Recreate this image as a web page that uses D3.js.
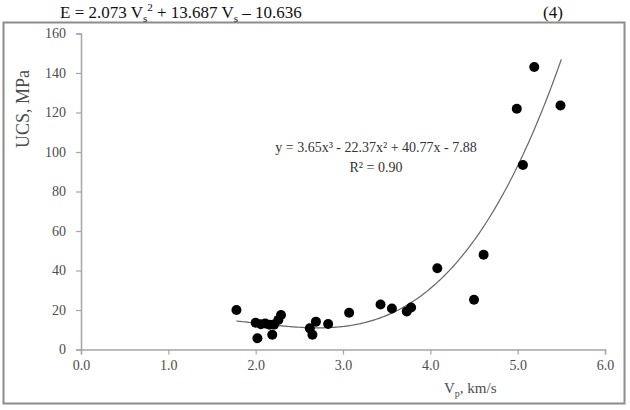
<!DOCTYPE html>
<html>
<head>
<meta charset="utf-8">
<script src="https://cdn.jsdelivr.net/npm/d3@7"></script>
<style>
  body { margin: 0; background: #fff; }
  text { font-family: "Liberation Serif", "DejaVu Serif", serif; }
</style>
</head>
<body>
<div id="chart"></div>
<script>
// 1. Dados
const vp  = [1.78, 2.00, 2.02, 2.06, 2.11, 2.16, 2.19, 2.21, 2.26, 2.29, 2.62, 2.65, 2.69, 2.83, 3.07, 3.43, 3.56, 3.73, 3.78, 4.08, 4.50, 4.61, 4.99, 5.06, 5.19, 5.49];
const ucs = [20.0, 13.5, 5.7, 12.8, 13.2, 12.5, 7.5, 12.6, 15.0, 17.5, 10.7, 7.5, 14.1, 12.9, 18.6, 22.8, 20.8, 19.3, 21.3, 41.1, 25.2, 48.0, 121.9, 93.4, 143.0, 123.5];

// coeficientes da linha de tendência (y = a x³ + b x² + c x + d)
const trendCoef = [3.65, -22.37, 40.77, -7.88];
const trendRange = [1.78, 5.5];

const xTicks = [0, 1, 2, 3, 4, 5, 6];
const yTicks = [0, 20, 40, 60, 80, 100, 120, 140, 160];

// 2. Definições do gráfico
const W = 630, H = 410;
const axisColor = "#a6a6a6";
const labelColor = "#4d4d4d";

const svg = d3.select("#chart")
    .append("svg")
    .attr("width", W)
    .attr("height", H);

// moldura externa
svg.append("rect")
    .attr("x", 3.5)
    .attr("y", 22.5)
    .attr("width", 621)
    .attr("height", 381)
    .attr("fill", "none")
    .attr("stroke", "#8c8c8c")
    .attr("stroke-width", 2);

// 3. Equação acima do gráfico
const eq = svg.append("text")
    .attr("x", 60)
    .attr("y", 18)
    .style("font-size", "17px")
    .attr("fill", "#111");
eq.append("tspan").text("E = 2.073 V");
eq.append("tspan").attr("dy", 4).style("font-size", "11px").text("s");
eq.append("tspan").attr("dy", -11).style("font-size", "11px").text("2");
eq.append("tspan").attr("dy", 7).text(" + 13.687 V");
eq.append("tspan").attr("dy", 4).style("font-size", "11px").text("s");
eq.append("tspan").attr("dy", -4).text(" \u2013 10.636");

svg.append("text")
    .attr("x", 543)
    .attr("y", 18)
    .style("font-size", "17px")
    .attr("fill", "#111")
    .text("(4)");

// 4. Escalas
const xScale = d3.scaleLinear().domain([0, 6]).range([81, 605]);
const yScale = d3.scaleLinear().domain([0, 160]).range([349.5, 33.5]);

// 5. Eixos
const xAxis = d3.axisBottom(xScale)
    .tickValues(xTicks)
    .tickFormat(d3.format(".1f"))
    .tickSize(5)
    .tickPadding(6);

const yAxis = d3.axisLeft(yScale)
    .tickValues(yTicks)
    .tickSize(5)
    .tickPadding(10);

const gx = svg.append("g")
    .attr("transform", `translate(0,${yScale(0)})`)
    .call(xAxis);

const gy = svg.append("g")
    .attr("transform", `translate(${xScale(0)},0)`)
    .call(yAxis);

[gx, gy].forEach(g => {
    g.select(".domain").attr("stroke", axisColor).attr("stroke-width", 1.5);
    g.selectAll(".tick line").attr("stroke", axisColor).attr("stroke-width", 1.2);
    g.selectAll(".tick text")
        .attr("fill", labelColor)
        .style("font-family", "'Liberation Serif', serif")
        .style("font-size", "14px");
});

// 6. Linha de tendência
const poly = x => trendCoef[0] * x * x * x + trendCoef[1] * x * x + trendCoef[2] * x + trendCoef[3];
const trendX = d3.range(trendRange[0], trendRange[1] + 0.001, 0.02);

const lineGenerator = d3.line()
    .x(d => xScale(d))
    .y(d => yScale(poly(d)))
    .curve(d3.curveMonotoneX);

svg.append("path")
    .datum(trendX)
    .attr("fill", "none")
    .attr("stroke", "#666")
    .attr("stroke-width", 1.2)
    .attr("d", lineGenerator);

// 7. Pontos
svg.selectAll(".dot")
    .data(vp.map((v, i) => ({ x: v, y: ucs[i] })))
    .enter()
    .append("circle")
    .attr("class", "dot")
    .attr("cx", d => xScale(d.x))
    .attr("cy", d => yScale(d.y))
    .attr("r", 5)
    .attr("fill", "#000");

// 8. Equação da tendência
svg.append("text")
    .attr("x", 376)
    .attr("y", 152)
    .attr("text-anchor", "middle")
    .attr("fill", "#333")
    .style("font-size", "14px")
    .text("y = 3.65x\u00b3 - 22.37x\u00b2 + 40.77x - 7.88");

svg.append("text")
    .attr("x", 376)
    .attr("y", 172)
    .attr("text-anchor", "middle")
    .attr("fill", "#333")
    .style("font-size", "14px")
    .text("R\u00b2 = 0.90");

// 9. Títulos dos eixos
svg.append("text")
    .attr("text-anchor", "middle")
    .attr("transform", "rotate(-90)")
    .attr("x", -109)
    .attr("y", 29)
    .attr("fill", labelColor)
    .style("font-size", "18px")
    .text("UCS, MPa");

const xl = svg.append("text")
    .attr("x", 444)
    .attr("y", 393)
    .attr("fill", labelColor)
    .style("font-size", "15px");
xl.append("tspan").text("V");
xl.append("tspan").attr("dy", 4).style("font-size", "10px").text("p");
xl.append("tspan").attr("dy", -4).text(", km/s");
</script>
</body>
</html>
